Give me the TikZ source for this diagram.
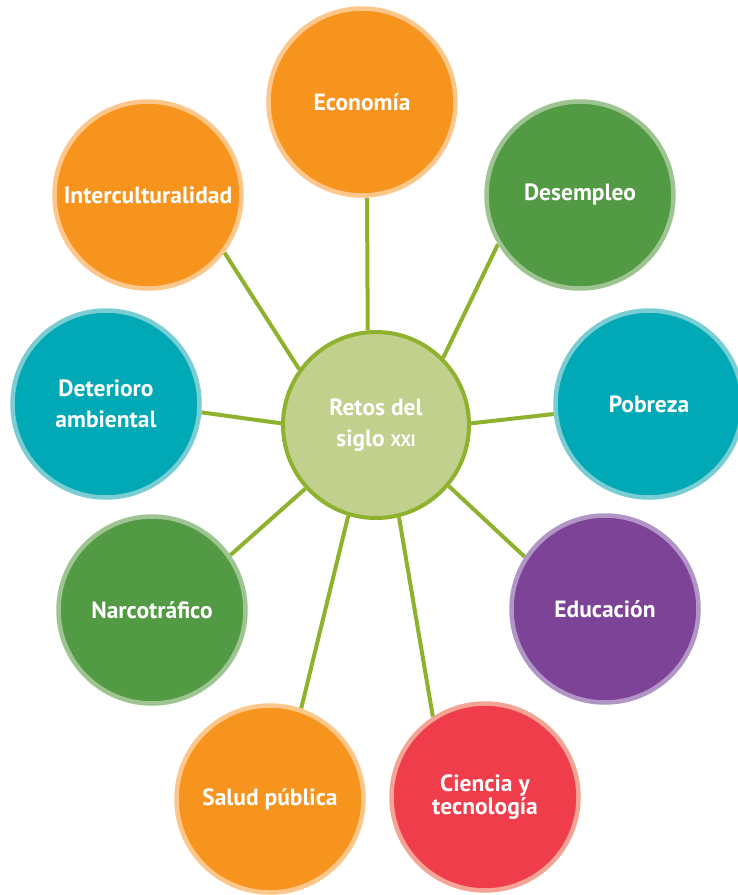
\documentclass[tikz,border=0pt]{standalone}
\usepackage{fontspec}
\setmainfont{PT Sans}
\usepackage{tikz}
\usetikzlibrary{backgrounds}
\definecolor{orangec}{HTML}{F7941E}
\definecolor{orangeb}{HTML}{FDC68A}
\definecolor{greenc}{HTML}{529B44}
\definecolor{greenb}{HTML}{9DC491}
\definecolor{tealc}{HTML}{00A9B5}
\definecolor{tealb}{HTML}{7BCDD4}
\definecolor{purplec}{HTML}{7D4396}
\definecolor{purpleb}{HTML}{B195C6}
\definecolor{redc}{HTML}{EF3D4B}
\definecolor{redb}{HTML}{F5A394}
\definecolor{hubc}{HTML}{C2D08D}
\definecolor{linec}{HTML}{8FB22E}
\tikzset{
  reto/.style={circle,line width=4.5pt,minimum size=187pt,inner sep=0pt,align=center,text=white,font=\bfseries\fontsize{23.5}{31}\selectfont},
  retoO/.style={reto,fill=orangec,draw=orangeb},
  retoG/.style={reto,fill=greenc,draw=greenb},
  retoT/.style={reto,fill=tealc,draw=tealb},
  retoP/.style={reto,fill=purplec,draw=purpleb},
  retoR/.style={reto,fill=redc,draw=redb,font=\bfseries\fontsize{23.5}{23.5}\selectfont},
  hub/.style={reto,fill=hubc,draw=linec,line width=4pt,minimum size=186pt},
  conn/.style={draw=linec,line width=4pt},
}
\newcommand{\smc}[1]{{\fontsize{16.5}{16.5}\selectfont #1}}

\begin{document}
\begin{tikzpicture}[x=1pt,y=-1pt]
  \useasboundingbox (0,0) rectangle (738,895);
  \node[hub] (retos) at (376,425) {Retos del\\siglo \smc{XXI}};
  \node[retoO] (eco) at (362,102) {Economía};
  \node[retoG] (desem) at (580,195) {Desempleo};
  \node[retoT] (pob) at (649,404) {Pobreza};
  \node[retoP] (edu) at (605,609) {Educación};
  \node[retoR] (cien) at (485,797) {Ciencia y\\tecnología};
  \node[retoO] (salud) at (270,799) {Salud pública};
  \node[retoG] (narco) at (152,610) {Narcotráfico};
  \node[retoT] (deter) at (106,404) {Deterioro\\ambiental};
  \node[retoO] (inter) at (148,195) {Interculturalidad};
  \begin{scope}[on background layer]
    \draw[conn] (retos.95) -- (eco.273);
    \draw[conn] (retos.45) -- (desem.211);
    \draw[conn] (retos.1) -- (pob.186);
    \draw[conn] (retos.320) -- (edu.147);
    \draw[conn] (retos.284) -- (cien.123);
    \draw[conn] (retos.253) -- (salud.71);
    \draw[conn] (retos.222) -- (narco.35);
    \draw[conn] (retos.179) -- (deter.355);
    \draw[conn] (retos.144) -- (inter.323);
  \end{scope}
\end{tikzpicture}
\end{document}
